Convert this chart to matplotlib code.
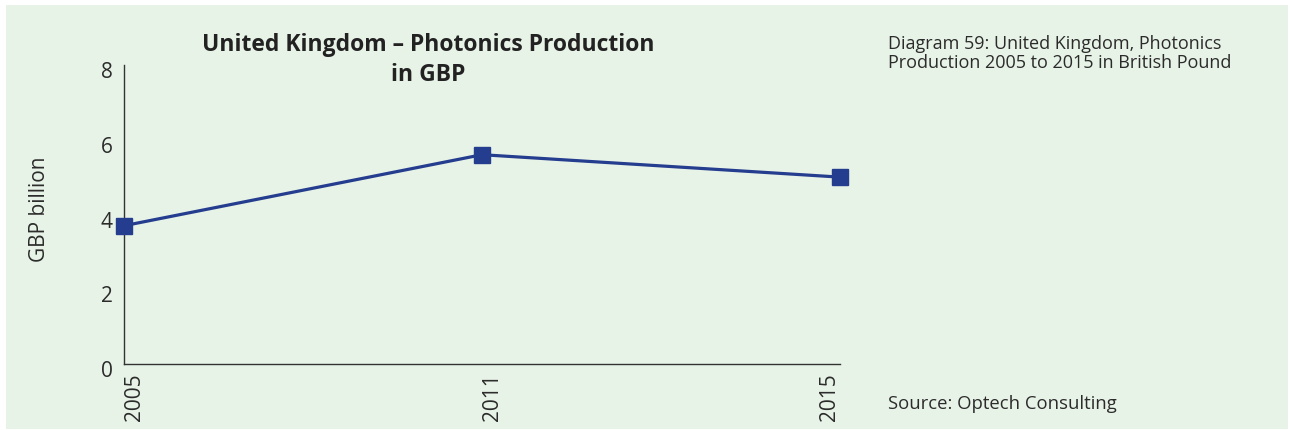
import numpy as np
import matplotlib.pyplot as plt
from matplotlib.patches import Rectangle
from matplotlib.transforms import ScaledTranslation

# data
years = ['2005', '2011', '2015']
production = [3.7, 5.6, 5.0]   # GBP billion
y_ticks = [0, 2, 4, 6, 8]

plt.rcParams['font.family'] = ['Open Sans', 'DejaVu Sans']

bg = '#e8f3e7'
txt = '#2b2b2b'

fig = plt.figure(figsize=(12.9, 4.31), dpi=100)
fig.patches.append(Rectangle((6/1290, 1/431), 1282/1290, 424/431,
                             transform=fig.transFigure, facecolor=bg,
                             edgecolor='none', zorder=-5))

ax = fig.add_axes([124/1290, 66/431, 716/1290, 299/431])
ax.set_facecolor('none')
ax.set_zorder(2)

x = np.arange(len(years))
ax.plot(x, production, color='#253d8f', lw=2.3, marker='s', ms=12,
        clip_on=False, zorder=3)

ax.set_xlim(0, len(years) - 1)
ax.set_ylim(0, 8)
ax.set_xticks(x)
ax.set_xticklabels(years, rotation=90, va='top')
ax.set_yticks(y_ticks)
ax.tick_params(length=0, labelsize=15, colors=txt, pad=6)
ax.tick_params(axis='y', pad=8)

# first labels sit right of their tick, the last one left of it
for i, lab in enumerate(ax.get_xticklabels()):
    lab.set_ha('right' if i == len(years) - 1 else 'left')
# y labels sit a little low in the reference
for lab in ax.get_yticklabels():
    lab.set_transform(lab.get_transform() + ScaledTranslation(0, -4/100, fig.dpi_scale_trans))

for s in ['top', 'right']:
    ax.spines[s].set_visible(False)
for s in ['left', 'bottom']:
    ax.spines[s].set_color('#333333')
    ax.spines[s].set_linewidth(1.0)

ax.set_ylabel('GBP billion', fontsize=15, color=txt)
ax.yaxis.set_label_coords(-74/716, 0.52)

fig.text(428/1290, 1 - 60/431, 'United Kingdom \u2013 Photonics Production\nin GBP',
         ha='center', va='center', fontsize=16.5, fontweight='bold', color='#222222',
         linespacing=1.3)

fig.text(888/1290, 1 - 35/431, 'Diagram 59: United Kingdom, Photonics\nProduction 2005 to 2015 in British Pound',
         ha='left', va='top', fontsize=13, color=txt, linespacing=1.05)
fig.text(888/1290, 1 - 404/431, 'Source: Optech Consulting',
         ha='left', va='center', fontsize=13.3, color=txt)

fig.savefig('out.png', dpi=100)
